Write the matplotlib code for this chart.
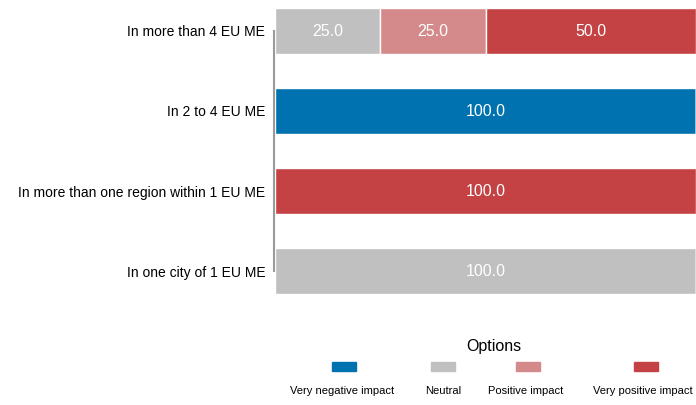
import matplotlib.pyplot as plt
from matplotlib.patches import Rectangle
import numpy as np

plt.rcParams['font.family'] = ['Liberation Sans', 'DejaVu Sans']

#%% Data
categories = ['In more than 4 EU ME', 'In 2 to 4 EU ME',
              'In more than one region within 1 EU ME', 'In one city of 1 EU ME']
options = ['Very negative impact', 'Neutral', 'Positive impact', 'Very positive impact']
very_negative = [0, 100, 0, 0]
neutral = [25, 0, 0, 100]
positive = [25, 0, 0, 0]
very_positive = [50, 0, 100, 0]
colours = ['#0072b0', '#c0c0c0', '#d4898a', '#c44243']

series = [very_negative, neutral, positive, very_positive]

#%% Plot
W, H = 696, 405
fig = plt.figure(figsize=(W / 100, H / 100), dpi=100)
ax = fig.add_axes([275 / W, 1 - 310 / H, 1 - 275 / W, 310 / H])

y = np.arange(len(categories))
left = np.zeros(len(categories))
for vals, col in zip(series, colours):
    vals = np.array(vals, dtype=float)
    bars = ax.barh(y, vals, left=left, height=0.58, color=col,
                   edgecolor='white', linewidth=1)
    for b, v in zip(bars, vals):
        if v > 0:
            ax.text(b.get_x() + b.get_width() / 2, b.get_y() + b.get_height() / 2,
                    '%.1f' % v, ha='center', va='center', color='white', fontsize=11.5)
    left += vals

ax.set_xlim(0, 100)
ax.set_ylim(3.4875, -0.3875)
ax.set_yticks(y)
ax.set_yticklabels(categories, fontsize=10.5)
ax.tick_params(axis='y', length=0, pad=6)
ax.set_xticks([])
for s in ['top', 'right', 'bottom']:
    ax.spines[s].set_visible(False)
ax.spines['left'].set_bounds(0, 3)
ax.spines['left'].set_color('#9a9a9a')
ax.spines['left'].set_linewidth(1.5)
ax.spines['left'].set_position(('outward', 1))

# Legend (title, handles above labels)
fig.text(494 / W, 1 - 346 / H, 'Options', ha='center', va='center', fontsize=11.5)
handle_x = [344, 443, 528, 646]
label_x = [342, 443, 526, 643]
for hx, lx, lab, col in zip(handle_x, label_x, options, colours):
    fig.add_artist(Rectangle(((hx - 12) / W, 1 - 370.5 / H), 24 / W, 9 / H,
                             transform=fig.transFigure, color=col))
    fig.text(lx / W, 1 - 390.5 / H, lab, ha='center', va='center', fontsize=8)

fig.savefig('out.png', dpi=100)
